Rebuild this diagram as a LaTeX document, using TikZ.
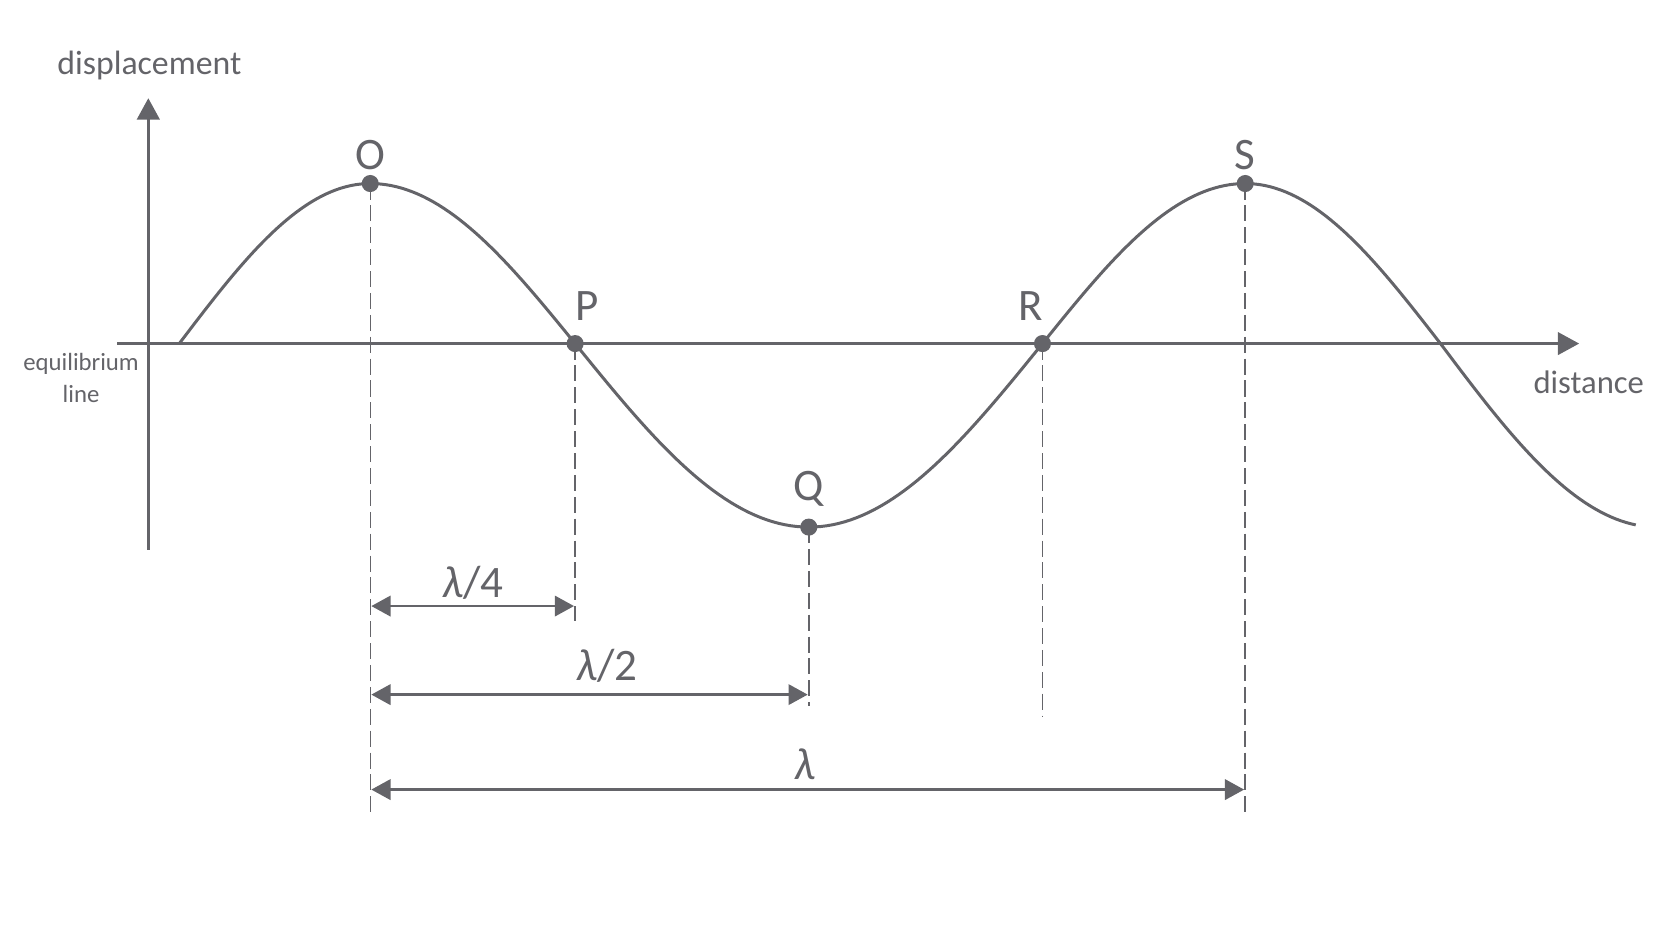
\documentclass[tikz,border=0pt]{standalone}
\usepackage{fontspec}
\setmainfont{Carlito}
\usetikzlibrary{arrows.meta}
\definecolor{ink}{RGB}{100,100,105}
\begin{document}
\begin{tikzpicture}[x=0.01cm,y=-0.01cm,
  every node/.style={text=ink,inner sep=0pt},
  axis/.style={draw=ink,line width=0.028cm,-{Triangle[length=0.2cm,width=0.21cm]}},
  wave/.style={draw=ink,line width=0.028cm},
  guide/.style={draw=ink,line width=0.014cm,dash pattern=on 0.15cm off 0.055cm},
  dim/.style={draw=ink,line width=0.026cm,{Triangle[length=0.18cm,width=0.19cm]}-{Triangle[length=0.18cm,width=0.19cm]}},
  dot/.style={circle,fill=ink,minimum size=0.16cm,inner sep=0pt},
  lbl/.style={font=\fontsize{12}{14}\selectfont},
  dlbl/.style={font=\fontsize{12}{14}\selectfont},
]
\useasboundingbox (0,0) rectangle (1567,882);
% axes
\coordinate (yb) at (139,515);
\coordinate (yt) at (139,92);
\coordinate (xl) at (110,322);
\coordinate (xr) at (1480,322);
\draw[axis] (yb) -- (yt);
\draw[axis] (xl) -- (xr);
% wave
\draw[wave]
  plot[domain=168:347,samples=40] (\x,{322-150*sin((\x-168)/179*90)})
  -- plot[domain=347:539,samples=40] (\x,{322-150*cos((\x-347)/192*90)})
  -- plot[domain=539:758,samples=40] (\x,{322+172*sin((\x-539)/219*90)})
  -- plot[domain=758:977,samples=40] (\x,{322+172*cos((\x-758)/219*90)})
  -- plot[domain=977:1167,samples=40] (\x,{322-150*sin((\x-977)/190*90)})
  -- plot[domain=1167:1350,samples=40] (\x,{322-150*cos((\x-1167)/183*90)})
  -- plot[domain=1350:1533,samples=40] (\x,{322+172*sin((\x-1350)/203*90)});
% guide end points
\coordinate (Oe) at (347,762);
\coordinate (Pe) at (539,582);
\coordinate (Qe) at (758,662);
\coordinate (Re) at (977,672);
\coordinate (Se) at (1167,762);
% points
\node[dot] (O) at (347,172) {};
\node[dot] (P) at (539,322) {};
\node[dot] (Q) at (758,494) {};
\node[dot] (R) at (977,322) {};
\node[dot] (S) at (1167,172) {};
\draw[guide] (O.center) -- (Oe);
\draw[guide] (P.center) -- (Pe);
\draw[guide] (Q.center) -- (Qe);
\draw[guide] (R.center) -- (Re);
\draw[guide] (S.center) -- (Se);
% point labels
\node[lbl] (Ol) at (347,145) {O};
\node[lbl] (Pl) at (550,287) {P};
\node[lbl] (Ql) at (758,458) {Q};
\node[lbl] (Rl) at (966,287) {R};
\node[lbl] (Sl) at (1167,145) {S};
% dimension arrows
\coordinate (a1) at (348,568); \coordinate (b1) at (538,568);
\coordinate (a2) at (348,651); \coordinate (b2) at (757,651);
\coordinate (a3) at (348,740); \coordinate (b3) at (1166,740);
\draw[dim] (a1) -- (b1);
\draw[dim] (a2) -- (b2);
\draw[dim] (a3) -- (b3);
\node[dlbl] (l1) at (443,546) {\textit{λ}/4};
\node[dlbl] (l2) at (569,624) {\textit{λ}/2};
\node[dlbl] (l3) at (754,716) {\textit{λ}};
% axis labels
\node[font=\fontsize{9}{11}\selectfont] (disp) at (140,61) {displacement};
\node[font=\fontsize{8.7}{11}\selectfont] (dist) at (1489,358) {distance};
\node[font=\fontsize{6.6}{8.5}\selectfont,align=center] (eq) at (76,354) {equilibrium\\line};
\end{tikzpicture}
\end{document}
